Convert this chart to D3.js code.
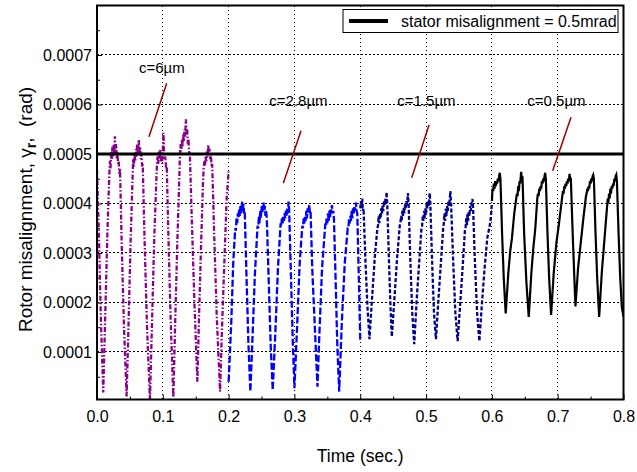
<!DOCTYPE html>
<html>
<head>
<meta charset="utf-8">
<script src="https://d3js.org/d3.v7.min.js"></script>
<style>
body {margin:0; background:white;}
svg {font-family: Arial, "Liberation Sans", sans-serif;}
.grid line {stroke:black; stroke-width:1; stroke-dasharray:1.5,2.5; shape-rendering:crispEdges;}
.axis text {font-size:16px; fill:black;}
.axis line {stroke:black;}
</style>
</head>
<body>
<svg width="637" height="472"></svg>
<script>
// time (sec), rotor misalignment (rad)
var c6 = [
  [0.000,4.68e-4],[0.003,3.3e-4],[0.006,1.6e-4],[0.0095,0.18e-4],
  [0.013,2.0e-4],[0.016,3.5e-4],[0.0185,4.5e-4],
  [0.0195,4.85e-4],[0.0205,4.7e-4],[0.0215,5.05e-4],[0.0225,4.9e-4],[0.0235,5.15e-4],[0.0245,4.95e-4],
  [0.0255,5.2e-4],[0.0265,5.0e-4],[0.0272,5.36e-4],[0.028,5.05e-4],[0.029,5.2e-4],[0.030,4.9e-4],
  [0.031,5.05e-4],[0.032,4.8e-4],[0.033,4.85e-4],[0.034,4.6e-4],[0.035,4.7e-4],
  [0.0375,3.2e-4],[0.041,1.5e-4],[0.045,0.1e-4],
  [0.048,1.6e-4],[0.051,3.2e-4],[0.054,4.5e-4],
  [0.055,4.9e-4],[0.056,4.75e-4],[0.057,5.0e-4],[0.058,4.85e-4],[0.059,5.1e-4],[0.060,4.95e-4],
  [0.061,5.2e-4],[0.062,5.0e-4],[0.0635,5.29e-4],[0.0645,5.05e-4],[0.0655,5.15e-4],[0.0665,4.9e-4],
  [0.0675,5.0e-4],[0.0685,4.75e-4],[0.0695,4.8e-4],
  [0.072,3.4e-4],[0.076,1.5e-4],[0.0805,0.03e-4],
  [0.084,1.8e-4],[0.087,3.3e-4],[0.090,4.4e-4],
  [0.091,4.75e-4],[0.092,4.95e-4],[0.093,4.8e-4],[0.094,5.05e-4],[0.095,4.9e-4],[0.096,5.1e-4],
  [0.097,4.85e-4],[0.098,5.0e-4],[0.099,4.8e-4],[0.100,5.1e-4],[0.101,5.43e-4],[0.102,5.0e-4],
  [0.103,4.9e-4],[0.104,4.95e-4],[0.105,4.7e-4],[0.106,4.75e-4],
  [0.108,3.6e-4],[0.112,1.6e-4],[0.116,0.08e-4],
  [0.119,1.7e-4],[0.122,3.2e-4],[0.125,4.5e-4],
  [0.126,5.0e-4],[0.127,5.2e-4],[0.128,5.05e-4],[0.129,5.3e-4],[0.130,5.15e-4],[0.131,5.4e-4],
  [0.132,5.25e-4],[0.133,5.5e-4],[0.134,5.35e-4],[0.135,5.7e-4],[0.136,5.4e-4],[0.137,5.5e-4],
  [0.138,5.2e-4],[0.139,5.3e-4],[0.140,5.0e-4],[0.141,5.05e-4],
  [0.144,3.7e-4],[0.148,2.0e-4],[0.1525,0.4e-4],
  [0.155,1.7e-4],[0.158,3.1e-4],[0.161,4.4e-4],
  [0.162,4.7e-4],[0.163,4.85e-4],[0.164,4.75e-4],[0.165,4.95e-4],[0.166,4.85e-4],[0.167,5.05e-4],
  [0.168,4.95e-4],[0.169,5.19e-4],[0.170,5.0e-4],[0.171,5.1e-4],[0.172,4.9e-4],[0.173,5.0e-4],
  [0.174,4.75e-4],[0.175,4.8e-4],
  [0.178,3.4e-4],[0.182,1.7e-4],[0.187,0.2e-4],
  [0.190,1.5e-4],[0.194,3.0e-4],[0.197,4.1e-4],[0.200,4.65e-4]
];
var c28 = [
  [0.200,0.4e-4],[0.204,1.6e-4],[0.207,2.8e-4],[0.210,3.5e-4],
  [0.211,3.45e-4],[0.212,3.7e-4],[0.213,3.6e-4],[0.214,3.8e-4],[0.215,3.7e-4],[0.216,3.9e-4],
  [0.217,3.75e-4],[0.218,3.95e-4],[0.219,3.8e-4],[0.2205,4.04e-4],[0.2215,3.85e-4],[0.2225,4.0e-4],
  [0.2235,3.8e-4],[0.2245,3.85e-4],
  [0.227,2.6e-4],[0.230,1.2e-4],[0.233,0.2e-4],
  [0.236,1.2e-4],[0.240,2.6e-4],[0.244,3.55e-4],
  [0.245,3.5e-4],[0.246,3.75e-4],[0.247,3.6e-4],[0.248,3.85e-4],[0.249,3.7e-4],[0.250,3.95e-4],
  [0.251,3.8e-4],[0.252,3.9e-4],[0.253,4.02e-4],[0.254,3.85e-4],[0.255,3.95e-4],[0.256,3.75e-4],
  [0.257,3.85e-4],[0.258,3.7e-4],
  [0.261,2.4e-4],[0.264,1.1e-4],[0.267,0.23e-4],
  [0.271,1.4e-4],[0.275,2.7e-4],[0.279,3.6e-4],
  [0.280,3.55e-4],[0.281,3.7e-4],[0.282,3.6e-4],[0.283,3.75e-4],[0.284,3.65e-4],[0.285,3.8e-4],
  [0.286,3.7e-4],[0.287,3.85e-4],[0.288,3.75e-4],[0.289,3.9e-4],[0.290,3.8e-4],[0.291,4.04e-4],
  [0.292,3.85e-4],
  [0.295,2.4e-4],[0.2975,1.2e-4],[0.300,0.27e-4],
  [0.304,1.5e-4],[0.308,2.8e-4],[0.312,3.55e-4],
  [0.313,3.5e-4],[0.314,3.7e-4],[0.315,3.6e-4],[0.316,3.75e-4],[0.317,3.65e-4],[0.318,3.85e-4],
  [0.319,3.7e-4],[0.320,3.9e-4],[0.321,3.8e-4],[0.3225,3.97e-4],[0.3235,3.8e-4],[0.3245,3.85e-4],
  [0.327,2.7e-4],[0.331,1.5e-4],[0.335,0.3e-4],
  [0.338,1.4e-4],[0.342,2.7e-4],[0.347,3.6e-4],
  [0.348,3.55e-4],[0.349,3.7e-4],[0.350,3.6e-4],[0.351,3.8e-4],[0.352,3.65e-4],[0.353,3.85e-4],
  [0.354,3.7e-4],[0.355,3.9e-4],[0.356,3.8e-4],[0.357,3.97e-4],[0.358,3.8e-4],[0.359,3.85e-4],
  [0.360,3.7e-4],
  [0.3625,2.5e-4],[0.365,1.2e-4],[0.368,0.2e-4],
  [0.372,1.6e-4],[0.3765,2.8e-4],[0.381,3.5e-4],
  [0.382,3.5e-4],[0.383,3.7e-4],[0.384,3.6e-4],[0.385,3.75e-4],[0.386,3.65e-4],[0.387,3.85e-4],
  [0.388,3.7e-4],[0.389,3.9e-4],[0.390,3.8e-4],[0.391,3.95e-4],[0.392,3.85e-4],[0.3935,4.02e-4],
  [0.3945,3.85e-4],[0.3955,3.8e-4],
  [0.398,2.4e-4],[0.400,1.25e-4]
];
var c15 = [
  [0.400,3.9e-4],[0.401,4.05e-4],[0.402,3.9e-4],[0.403,4.1e-4],[0.404,3.85e-4],[0.405,3.9e-4],
  [0.408,2.8e-4],[0.411,1.9e-4],[0.414,1.26e-4],
  [0.418,2.1e-4],[0.422,2.9e-4],[0.426,3.5e-4],
  [0.427,3.55e-4],[0.428,3.75e-4],[0.429,3.6e-4],[0.430,3.8e-4],[0.431,3.7e-4],[0.432,3.9e-4],
  [0.433,3.8e-4],[0.434,3.95e-4],[0.435,3.85e-4],[0.436,4.05e-4],[0.437,3.95e-4],[0.438,4.1e-4],
  [0.439,4.0e-4],[0.440,4.23e-4],[0.441,4.0e-4],
  [0.4435,2.9e-4],[0.446,1.9e-4],[0.448,1.31e-4],
  [0.452,2.1e-4],[0.456,2.9e-4],[0.460,3.55e-4],
  [0.461,3.6e-4],[0.462,3.75e-4],[0.463,3.65e-4],[0.464,3.85e-4],[0.465,3.75e-4],[0.466,3.9e-4],
  [0.467,3.8e-4],[0.468,4.0e-4],[0.469,3.9e-4],[0.470,4.05e-4],[0.471,3.95e-4],[0.4725,4.21e-4],
  [0.4735,4.0e-4],
  [0.476,2.9e-4],[0.479,1.8e-4],[0.482,1.16e-4],
  [0.486,2.1e-4],[0.490,2.9e-4],[0.493,3.5e-4],
  [0.494,3.55e-4],[0.495,3.75e-4],[0.496,3.65e-4],[0.497,3.85e-4],[0.498,3.7e-4],[0.499,3.9e-4],
  [0.500,3.8e-4],[0.501,4.0e-4],[0.502,3.9e-4],[0.503,4.05e-4],[0.504,3.95e-4],[0.5055,4.21e-4],
  [0.5065,4.0e-4],
  [0.509,2.9e-4],[0.512,1.8e-4],[0.515,1.26e-4],
  [0.519,2.1e-4],[0.523,2.9e-4],[0.526,3.5e-4],
  [0.527,3.6e-4],[0.528,3.8e-4],[0.529,3.65e-4],[0.530,3.9e-4],[0.531,3.75e-4],[0.532,3.95e-4],
  [0.533,3.85e-4],[0.534,4.05e-4],[0.535,3.95e-4],[0.536,4.1e-4],[0.537,4.25e-4],[0.538,4.0e-4],
  [0.541,2.9e-4],[0.5445,1.8e-4],[0.548,1.22e-4],
  [0.552,2.0e-4],[0.556,2.8e-4],[0.559,3.45e-4],
  [0.560,3.5e-4],[0.561,3.7e-4],[0.562,3.55e-4],[0.563,3.8e-4],[0.564,3.65e-4],[0.565,3.85e-4],
  [0.566,3.75e-4],[0.567,3.95e-4],[0.568,3.85e-4],[0.569,4.0e-4],[0.5705,4.09e-4],[0.5715,3.9e-4],
  [0.574,2.9e-4],[0.5775,1.8e-4],[0.581,1.22e-4],
  [0.585,2.0e-4],[0.589,2.7e-4],[0.593,3.3e-4],[0.596,3.5e-4],[0.598,3.65e-4],[0.600,4.0e-4]
];
var c05 = [
  [0.600,4.05e-4],[0.601,4.3e-4],[0.602,4.25e-4],[0.603,4.4e-4],[0.604,4.3e-4],[0.605,4.45e-4],
  [0.606,4.35e-4],[0.607,4.45e-4],[0.608,4.4e-4],[0.609,4.5e-4],[0.610,4.45e-4],[0.611,4.55e-4],
  [0.612,4.62e-4],[0.613,4.5e-4],
  [0.6155,3.4e-4],[0.618,2.5e-4],[0.621,1.78e-4],
  [0.625,2.6e-4],[0.628,3.05e-4],[0.6305,3.3e-4],[0.634,3.8e-4],[0.638,4.2e-4],
  [0.639,4.15e-4],[0.640,4.35e-4],[0.641,4.25e-4],[0.642,4.45e-4],[0.643,4.4e-4],[0.6445,4.64e-4],
  [0.6455,4.5e-4],[0.6465,4.55e-4],
  [0.649,3.4e-4],[0.6525,2.4e-4],[0.656,1.71e-4],
  [0.660,2.6e-4],[0.663,3.1e-4],[0.666,3.5e-4],[0.669,4.1e-4],
  [0.670,4.2e-4],[0.671,4.15e-4],[0.672,4.3e-4],[0.673,4.25e-4],[0.674,4.35e-4],[0.675,4.3e-4],
  [0.676,4.45e-4],[0.677,4.4e-4],[0.678,4.5e-4],[0.679,4.45e-4],[0.680,4.55e-4],[0.681,4.62e-4],
  [0.682,4.5e-4],
  [0.6845,3.4e-4],[0.687,2.5e-4],[0.690,1.75e-4],
  [0.694,2.6e-4],[0.698,3.2e-4],[0.702,3.6e-4],[0.707,4.15e-4],
  [0.708,4.25e-4],[0.709,4.2e-4],[0.710,4.35e-4],[0.711,4.3e-4],[0.712,4.4e-4],[0.713,4.35e-4],
  [0.714,4.45e-4],[0.715,4.4e-4],[0.716,4.5e-4],[0.717,4.45e-4],[0.718,4.6e-4],[0.719,4.5e-4],
  [0.720,4.5e-4],
  [0.7225,3.5e-4],[0.725,2.6e-4],[0.727,1.92e-4],
  [0.731,2.7e-4],[0.735,3.2e-4],[0.739,3.7e-4],[0.743,4.15e-4],
  [0.744,4.2e-4],[0.745,4.3e-4],[0.746,4.25e-4],[0.747,4.35e-4],[0.748,4.3e-4],[0.749,4.45e-4],
  [0.750,4.4e-4],[0.751,4.5e-4],[0.752,4.45e-4],[0.753,4.55e-4],[0.754,4.58e-4],[0.755,4.5e-4],
  [0.7575,3.4e-4],[0.760,2.5e-4],[0.763,1.71e-4],
  [0.767,2.6e-4],[0.770,3.1e-4],[0.773,3.6e-4],[0.776,4.1e-4],
  [0.777,4.0e-4],[0.778,4.2e-4],[0.779,4.1e-4],[0.780,4.3e-4],[0.781,4.2e-4],[0.782,4.35e-4],
  [0.783,4.3e-4],[0.784,4.4e-4],[0.785,4.35e-4],[0.786,4.5e-4],[0.787,4.45e-4],[0.788,4.55e-4],
  [0.789,4.58e-4],[0.790,4.45e-4],
  [0.7925,3.4e-4],[0.795,2.5e-4],[0.7975,1.9e-4],[0.800,1.71e-4]
];

var xTicks = [0, 0.1, 0.2, 0.3, 0.4, 0.5, 0.6, 0.7, 0.8];
var xMinor = [0.05, 0.15, 0.25, 0.35, 0.45, 0.55, 0.65, 0.75];
var yTicks = [0.0001, 0.0002, 0.0003, 0.0004, 0.0005, 0.0006, 0.0007];
var yMinor = [0.00005, 0.00015, 0.00025, 0.00035, 0.00045, 0.00055, 0.00065, 0.00075];
var statorLevel = 0.0005;
var legendLabel = "stator misalignment = 0.5mrad";

// annotation text, where it starts, and the pointer line (data coords)
var noteText = ["c=6\u00b5m", "c=2.8\u00b5m", "c=1.5\u00b5m", "c=0.5\u00b5m"];
var noteAt = [[0.0638, 6.64e-4], [0.2618, 5.97e-4], [0.4563, 5.97e-4], [0.6539, 5.97e-4]];
var pointerFrom = [[0.1059, 6.43e-4], [0.3100, 5.47e-4], [0.5045, 5.585e-4], [0.7203, 5.74e-4]];
var pointerTo = [[0.0790, 5.35e-4], [0.2831, 4.41e-4], [0.4782, 4.52e-4], [0.6924, 4.66e-4]];

function draw() {
  var pL = 97, pR = 623.5, pT = 5.5, pB = 399.5;
  var svg = d3.select("svg");
  var x = d3.scaleLinear().domain([0, 0.8]).range([pL, pR]);
  var y = d3.scaleLinear().domain([0.000004, 0.0008]).range([pB, pT]);

  svg.append("rect").attr("width", 637).attr("height", 472).attr("fill", "white");

  // dotted grid
  svg.append("g").attr("class", "grid")
    .selectAll("line").data(xTicks.slice(1, -1)).enter().append("line")
    .attr("x1", function(d) { return x(d); }).attr("x2", function(d) { return x(d); })
    .attr("y1", pT).attr("y2", pB);
  svg.append("g").attr("class", "grid")
    .selectAll("line").data(yTicks).enter().append("line")
    .attr("y1", function(d) { return y(d); }).attr("y2", function(d) { return y(d); })
    .attr("x1", pL).attr("x2", pR);

  // axes, ticks pointing in
  var xAxis = d3.axisBottom(x).tickValues(xTicks).tickSizeInner(-5).tickSizeOuter(0)
    .tickPadding(11).tickFormat(d3.format(".1f"));
  var xAxisMinor = d3.axisBottom(x).tickValues(xMinor).tickSizeInner(-3).tickSizeOuter(0).tickFormat("");
  var yAxis = d3.axisLeft(y).tickValues(yTicks).tickSizeInner(-5).tickSizeOuter(0)
    .tickPadding(5).tickFormat(d3.format(".4f"));
  var yAxisMinor = d3.axisLeft(y).tickValues(yMinor).tickSizeInner(-3).tickSizeOuter(0).tickFormat("");

  svg.append("g").attr("class", "axis").attr("transform", "translate(0," + pB + ")").call(xAxis);
  svg.append("g").attr("class", "axis").attr("transform", "translate(0," + pB + ")").call(xAxisMinor);
  svg.append("g").attr("class", "axis").attr("transform", "translate(" + pL + ",0)").call(yAxis);
  svg.append("g").attr("class", "axis").attr("transform", "translate(" + pL + ",0)").call(yAxisMinor);
  svg.selectAll(".axis .domain").remove();
  svg.selectAll(".axis text").attr("font-family", "Arial, 'Liberation Sans', sans-serif");

  svg.append("clipPath").attr("id", "plotclip").append("rect")
    .attr("x", pL).attr("y", pT).attr("width", pR - pL).attr("height", pB - pT);

  var line = d3.line().x(function(d) { return x(d[0]); }).y(function(d) { return y(d[1]); });
  var plot = svg.append("g").attr("clip-path", "url(#plotclip)");

  plot.append("path").datum(c6).attr("d", line).attr("fill", "none")
    .attr("stroke", "#8b008b").attr("stroke-width", 2.3).attr("stroke-dasharray", "5,2,1.5,2");
  plot.append("path").datum(c28).attr("d", line).attr("fill", "none")
    .attr("stroke", "#0000ff").attr("stroke-width", 2.3).attr("stroke-dasharray", "7,2.5");
  plot.append("path").datum(c15).attr("d", line).attr("fill", "none")
    .attr("stroke", "#00008b").attr("stroke-width", 2.3).attr("stroke-dasharray", "4,2");
  plot.append("path").datum(c05).attr("d", line).attr("fill", "none")
    .attr("stroke", "black").attr("stroke-width", 2.2);

  plot.append("line").attr("x1", pL).attr("x2", pR)
    .attr("y1", y(statorLevel)).attr("y2", y(statorLevel))
    .attr("stroke", "black").attr("stroke-width", 3);

  // annotations
  svg.append("g").selectAll("line").data(pointerFrom).enter().append("line")
    .attr("x1", function(d) { return x(d[0]); }).attr("y1", function(d) { return y(d[1]); })
    .attr("x2", function(d, i) { return x(pointerTo[i][0]); })
    .attr("y2", function(d, i) { return y(pointerTo[i][1]); })
    .attr("stroke", "#990000").attr("stroke-width", 1.5);
  svg.append("g").selectAll("text").data(noteText).enter().append("text")
    .attr("x", function(d, i) { return x(noteAt[i][0]); })
    .attr("y", function(d, i) { return y(noteAt[i][1]); })
    .attr("font-size", 15).text(function(d) { return d; });

  // frame
  svg.append("rect").attr("x", pL).attr("y", pT).attr("width", pR - pL).attr("height", pB - pT)
    .attr("fill", "none").attr("stroke", "black").attr("stroke-width", 2);

  // legend
  svg.append("rect").attr("x", 343).attr("y", 9.5).attr("width", 275).attr("height", 23)
    .attr("fill", "white").attr("stroke", "black").attr("stroke-width", 1);
  svg.append("line").attr("x1", 349).attr("x2", 388).attr("y1", 21).attr("y2", 21)
    .attr("stroke", "black").attr("stroke-width", 4);
  svg.append("text").attr("x", 401).attr("y", 27).attr("font-size", 16).text(legendLabel);

  // axis titles
  svg.append("text").attr("x", (pL + pR) / 2).attr("y", 462).attr("text-anchor", "middle")
    .attr("font-size", 17.5).text("Time (sec.)");
  var yt = svg.append("text").attr("transform", "translate(32,332) rotate(-90)").attr("font-size", 19);
  yt.append("tspan").text("Rotor misalignment, \u03b3");
  yt.append("tspan").attr("dy", 4).attr("font-size", 14).attr("font-weight", "bold").text("r");
  yt.append("tspan").attr("dy", -4).text(",\u00a0\u00a0(rad)");
}
draw();
</script>
</body>
</html>
